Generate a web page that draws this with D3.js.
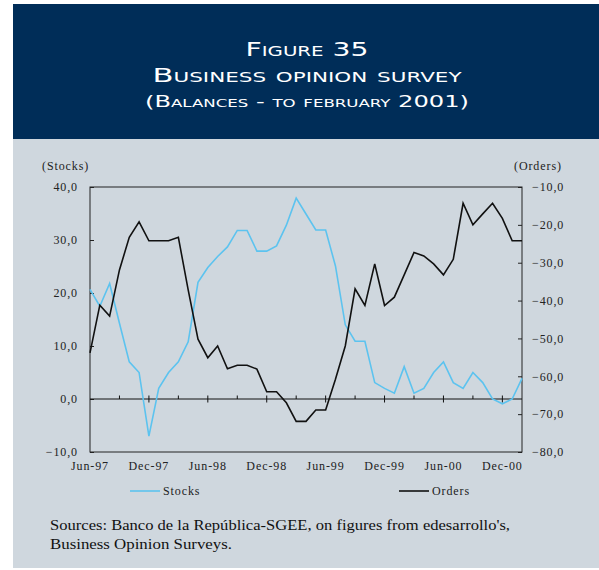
<!DOCTYPE html>
<html><head><meta charset="utf-8">
<script src="https://cdn.jsdelivr.net/npm/d3@7"></script>
<style>body{margin:0;background:#fff}svg{display:block}</style>
</head><body>
<svg id="c" width="599" height="570"></svg>
<script>
const months = ["Jun-97","Jul-97","Aug-97","Sep-97","Oct-97","Nov-97","Dec-97","Jan-98","Feb-98","Mar-98","Apr-98","May-98","Jun-98","Jul-98","Aug-98","Sep-98","Oct-98","Nov-98","Dec-98","Jan-99","Feb-99","Mar-99","Apr-99","May-99","Jun-99","Jul-99","Aug-99","Sep-99","Oct-99","Nov-99","Dec-99","Jan-00","Feb-00","Mar-00","Apr-00","May-00","Jun-00","Jul-00","Aug-00","Sep-00","Oct-00","Nov-00","Dec-00","Jan-01","Feb-01"];
const stocks = [20.7,17.5,21.8,14.3,7.0,5.0,-7.0,2.0,5.0,7.0,10.8,22.0,24.8,26.9,28.7,31.8,31.8,27.9,27.9,28.9,32.8,37.9,34.9,31.9,31.9,25.1,14.0,10.9,10.9,3.1,2.0,1.1,6.1,1.1,2.0,5.0,7.0,3.1,2.0,5.0,3.1,0.0,-0.9,0.0,3.9];
const orders = [-53.8,-41.2,-44.1,-31.9,-23.3,-19.2,-24.2,-24.2,-24.2,-23.3,-37.2,-50.2,-55.1,-52.0,-58.0,-57.1,-57.1,-58.1,-64.1,-64.1,-67.0,-71.9,-71.9,-68.9,-68.9,-60.8,-52.0,-36.9,-41.3,-30.3,-41.3,-39.1,-33.2,-27.3,-28.2,-30.3,-33.2,-29.1,-14.3,-20.0,-17.1,-14.3,-18.3,-24.2,-24.2];
const xLabels = ["Jun-97","Dec-97","Jun-98","Dec-98","Jun-99","Dec-99","Jun-00","Dec-00"];
const leftTicks = [-10,0,10,20,30,40];
const rightTicks = [-80,-70,-60,-50,-40,-30,-20,-10];
const titleLines = ["Figure 35","Business opinion survey","(Balances - to february 2001)"];
const sourceLines = ["Sources: Banco de la República-SGEE, on figures from edesarrollo's,","Business Opinion Surveys."];

const svg = d3.select("#c");
const serif = "'Liberation Serif','Times New Roman',serif";
const navy = "#002d58", panel = "#cfd7de", blue = "#5cc3ef";
const LS = "0.9px";

svg.append("rect").attr("x",13).attr("y",4).attr("width",586).attr("height",135).attr("fill",navy);
svg.append("rect").attr("x",13).attr("y",139).attr("width",586).attr("height",429).attr("fill",panel);

// title
const tl = [
  {t:titleLines[0], y:56, fs:20, w:123},
  {t:titleLines[1], y:82, fs:20, w:309},
  {t:titleLines[2], y:107, fs:16, w:324}
];
tl.forEach(d=>{
  svg.append("text").attr("x",307).attr("y",d.y).attr("text-anchor","middle")
    .attr("fill","#fff").attr("font-family","'DejaVu Sans',sans-serif")
    .attr("font-size",d.fs).style("font-variant","small-caps")
    .attr("textLength",d.w).attr("lengthAdjust","spacingAndGlyphs").text(d.t);
});

const m = {l:90, r:522, t:187, b:452};
const x = d3.scaleLinear().domain([0, months.length-1]).range([m.l, m.r]);
const yL = d3.scaleLinear().domain([-10,40]).range([m.b, m.t]);
const yR = d3.scaleLinear().domain([-80,-10]).range([m.b, m.t]);
const fmt = v => d3.format(".1f")(v).replace(".",",");

const g = svg.append("g");
const la = g.append("g").attr("transform",`translate(${m.l},0)`)
  .call(d3.axisLeft(yL).tickValues(leftTicks).tickSize(-4).tickPadding(12).tickFormat(fmt));
const ra = g.append("g").attr("transform",`translate(${m.r},0)`)
  .call(d3.axisRight(yR).tickValues(rightTicks).tickSize(-4).tickPadding(10).tickFormat(fmt));
[la,ra].forEach(a=>{
  a.select(".domain").remove();
  a.selectAll("line").attr("stroke","#222");
  a.selectAll("text").attr("font-family",serif).attr("font-size",12).attr("fill","#222").style("letter-spacing",LS);
});

g.append("rect").attr("x",m.l).attr("y",m.t).attr("width",m.r-m.l).attr("height",m.b-m.t)
  .attr("fill","none").attr("stroke","#222").attr("stroke-width",1);

const y0 = yL(0);
g.append("line").attr("x1",m.l).attr("x2",m.r).attr("y1",y0).attr("y2",y0).attr("stroke","#111");
const qIdx = d3.range(3, months.length-1, 3);
g.selectAll(".mt").data(qIdx).join("line")
  .attr("x1",d=>x(d)).attr("x2",d=>x(d))
  .attr("y1",d=> d%6===0 ? y0+3.5 : y0)
  .attr("y2",y0-3.5).attr("stroke","#111");

g.selectAll(".xl").data(xLabels).join("text")
  .attr("x",d=>x(months.indexOf(d))).attr("y",470).attr("text-anchor","middle")
  .attr("font-family",serif).attr("font-size",12).attr("fill","#222").style("letter-spacing",LS).text(d=>d);

g.append("text").attr("x",42).attr("y",170).attr("font-family",serif).attr("font-size",12).style("letter-spacing",LS).attr("fill","#222").text("(Stocks)");
g.append("text").attr("x",514).attr("y",170).attr("font-family",serif).attr("font-size",12).style("letter-spacing",LS).attr("fill","#222").text("(Orders)");

const lineS = d3.line().x((d,i)=>x(i)).y(d=>yL(d));
const lineO = d3.line().x((d,i)=>x(i)).y(d=>yR(d));
g.append("path").datum(stocks).attr("d",lineS).attr("fill","none").attr("stroke",blue).attr("stroke-width",1.6);
g.append("path").datum(orders).attr("d",lineO).attr("fill","none").attr("stroke","#111").attr("stroke-width",1.6);

const leg = [{t:"Stocks",c:blue,x:130},{t:"Orders",c:"#111",x:399}];
leg.forEach(d=>{
  svg.append("line").attr("x1",d.x).attr("x2",d.x+30).attr("y1",491).attr("y2",491).attr("stroke",d.c).attr("stroke-width",1.6);
  svg.append("text").attr("x",d.x+33).attr("y",495).attr("font-family",serif).attr("font-size",12).style("letter-spacing",LS).attr("fill","#222").text(d.t);
});

const srcW = [460, 182];
sourceLines.forEach((s,i)=>{
  svg.append("text").attr("x",50).attr("y",530+i*19).attr("font-family",serif).attr("font-size",15).attr("fill","#111")
    .attr("textLength",srcW[i]).attr("lengthAdjust","spacingAndGlyphs").text(s);
});
</script>
</body></html>
